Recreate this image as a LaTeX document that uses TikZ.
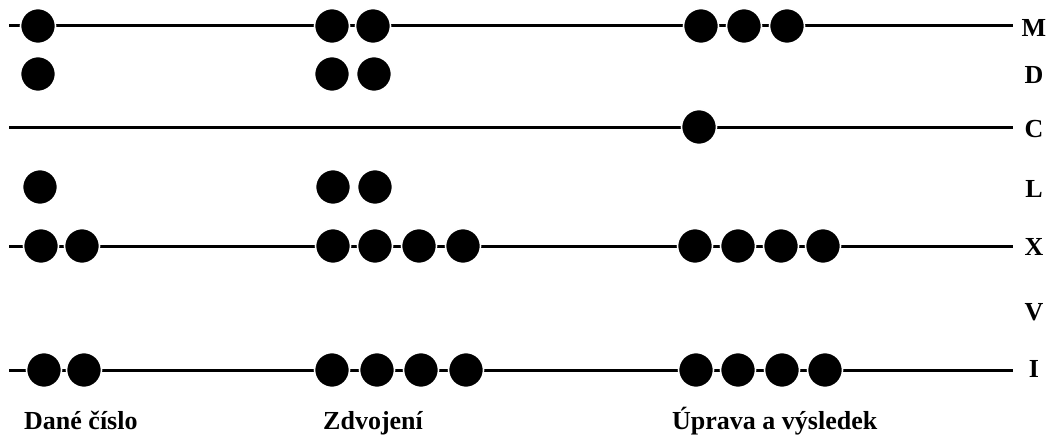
\documentclass[tikz,border=0pt]{standalone}
\usepackage{fontspec}
\setmainfont{Liberation Serif}
\begin{document}
\begin{tikzpicture}[x=1pt,y=-1pt,
  rod/.style={line width=3pt,black},
  bead/.style={circle,fill=black,draw=white,line width=1.6pt,minimum size=35pt,inner sep=0pt},
  rowlabel/.style={anchor=base,font=\fontsize{26}{26}\selectfont\bfseries,inner sep=0pt},
  collabel/.style={anchor=base west,font=\fontsize{26}{26}\selectfont\bfseries,inner sep=0pt}]
\useasboundingbox (0,0) rectangle (1049,436);
% rods
\coordinate (mS) at (9,26);  \coordinate (mE) at (1013,26);
\coordinate (cS) at (9,127); \coordinate (cE) at (1013,127);
\coordinate (xS) at (9,246); \coordinate (xE) at (1013,246);
\coordinate (iS) at (9,370); \coordinate (iE) at (1013,370);
\draw[rod] (mS) -- (mE);
\draw[rod] (cS) -- (cE);
\draw[rod] (xS) -- (xE);
\draw[rod] (iS) -- (iE);
% M row
\node[bead] (m1) at (38,26) {};
\node[bead] (m2) at (332,26) {};
\node[bead] (m3) at (373,26) {};
\node[bead] (m4) at (701,26) {};
\node[bead] (m5) at (744,26) {};
\node[bead] (m6) at (787,26) {};
% D row
\node[bead] (d1) at (38,74) {};
\node[bead] (d2) at (332,74) {};
\node[bead] (d3) at (374,74) {};
% C row
\node[bead] (c1) at (699,127) {};
% L row
\node[bead] (l1) at (40,187) {};
\node[bead] (l2) at (333,187) {};
\node[bead] (l3) at (375,187) {};
% X row
\node[bead] (x1) at (41,246) {};
\node[bead] (x2) at (82,246) {};
\node[bead] (x3) at (333,246) {};
\node[bead] (x4) at (375,246) {};
\node[bead] (x5) at (419,246) {};
\node[bead] (x6) at (463,246) {};
\node[bead] (x7) at (695,246) {};
\node[bead] (x8) at (738,246) {};
\node[bead] (x9) at (781,246) {};
\node[bead] (x10) at (823,246) {};
% I row
\node[bead] (i1) at (44,370) {};
\node[bead] (i2) at (84,370) {};
\node[bead] (i3) at (332,370) {};
\node[bead] (i4) at (377,370) {};
\node[bead] (i5) at (421,370) {};
\node[bead] (i6) at (466,370) {};
\node[bead] (i7) at (696,370) {};
\node[bead] (i8) at (738,370) {};
\node[bead] (i9) at (782,370) {};
\node[bead] (i10) at (825,370) {};
% row labels
\node[rowlabel] (lm) at (1034,37) {M};
\node[rowlabel] (ld) at (1034,83) {D};
\node[rowlabel] (lc) at (1034,137) {C};
\node[rowlabel] (ll) at (1034,197) {L};
\node[rowlabel] (lx) at (1034,255) {X};
\node[rowlabel] (lv) at (1034,320) {V};
\node[rowlabel] (li) at (1034,377) {I};
% column labels
\node[collabel] (t1) at (24,429) {Dané číslo};
\node[collabel] (t2) at (323,429) {Zdvojení};
\node[collabel] (t3) at (672,429) {Úprava a výsledek};
\end{tikzpicture}
\end{document}
